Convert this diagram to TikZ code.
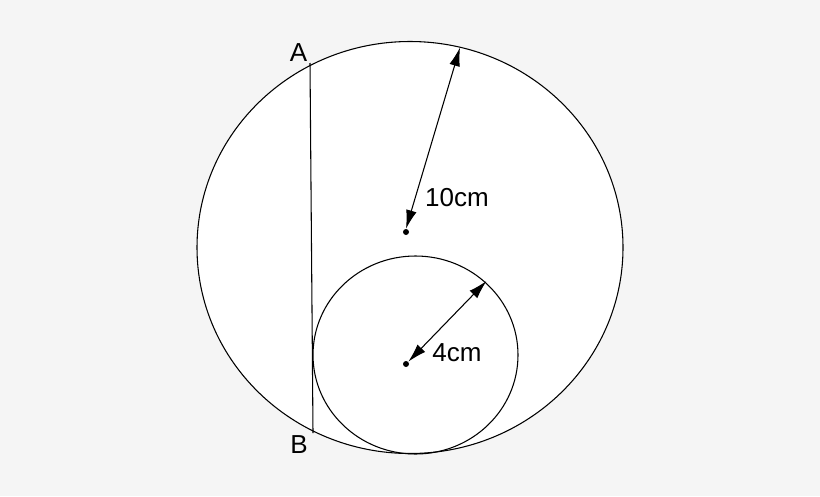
\documentclass[tikz,border=0pt]{standalone}
\usepackage{fontspec}
\setmainfont{Liberation Sans}
\usetikzlibrary{arrows.meta,positioning}
\definecolor{paper}{HTML}{F5F5F5}
\tikzset{%
  >={Latex[length=14pt,width=8pt]},
  thinline/.style={line width=0.8pt,black},
  dimarrow/.style={line width=0.8pt,<->},
  mark dot/.style={circle,fill=black,inner sep=0pt,minimum size=4.5pt},
  lbl/.style={inner sep=0pt,font=\fontsize{19.5}{22}\selectfont}
}
\begin{document}
\begin{tikzpicture}[x=0.75pt,y=-0.75pt]
\fill[paper] (0,0) rectangle (820,496);
\useasboundingbox (0,0) rectangle (820,496);

% the two circles
\filldraw[thinline,fill=white] (410,247.5) ellipse [x radius=213,y radius=206];
\draw[thinline] (415.5,355) ellipse [x radius=102.5,y radius=99];

\node[mark dot] (O) at (406,232) {}; % centre, big circle
\node[mark dot] (C) at (406,364) {}; % centre, small circle
\coordinate (P) at (460,47.5);
\coordinate (Q) at (486.5,281);
\coordinate (A) at (310,63);
\coordinate (B) at (313,433);

\draw[dimarrow] (P) -- (O.north);
\draw[dimarrow] (Q) -- (C.north east);
\draw[thinline] (A) -- (B); %chord

\node[lbl] (r10) at (457,198) {10cm};
\node[lbl] (r4) at (457,353) {4cm};
\node[lbl] (labA) at (298.5,53) {A};
\node[lbl] (labB) at (299,445) {B};
\end{tikzpicture}
\end{document}
